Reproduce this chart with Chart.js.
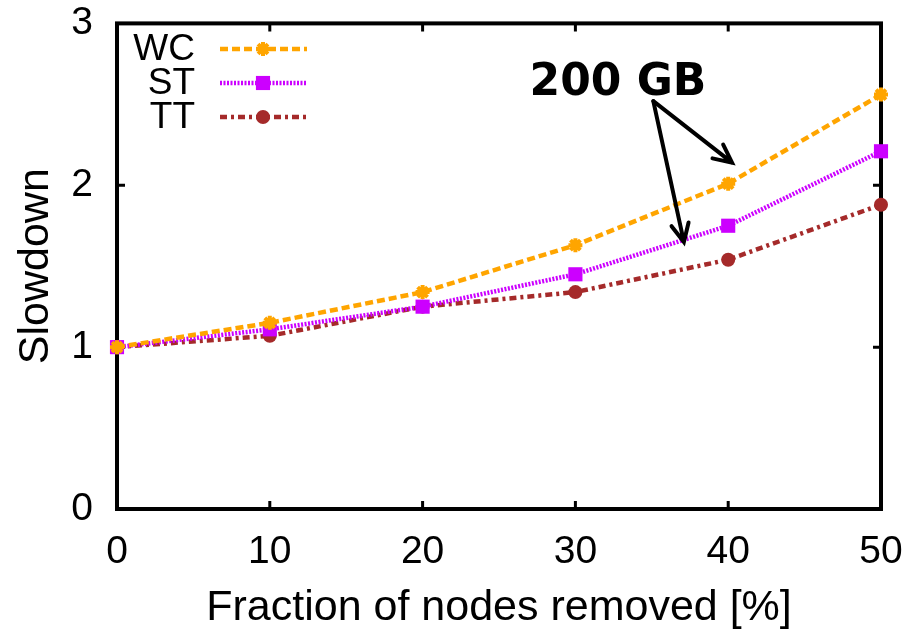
<!DOCTYPE html>
<html>
<head>
<meta charset="utf-8">
<script src="https://cdn.jsdelivr.net/npm/chart.js@4/dist/chart.umd.min.js"></script>
<style>
  html, body { margin: 0; padding: 0; background: #fff; }
  #wrap { width: 909px; height: 638px; }
</style>
</head>
<body>
<div id="wrap"><canvas id="slowdownChart"></canvas></div>
<script>
// values
const fractions = [0, 10, 20, 30, 40, 50];
const wcSlowdown = [1.0, 1.15, 1.34, 1.63, 2.01, 2.56];
const stSlowdown = [1.0, 1.11, 1.25, 1.45, 1.75, 2.21];
const ttSlowdown = [1.0, 1.07, 1.25, 1.34, 1.54, 1.88];
const seriesNames = ["WC", "ST", "TT"];

const FONT = "'Liberation Sans', Arial, Helvetica, sans-serif";

const toPoints = (ys) => fractions.map((x, i) => ({ x: x, y: ys[i] }));

// gnuplot style frame with inward ticks on all four sides
const framePlugin = {
  id: "frame",
  beforeDatasetsDraw(chart) {
    const { ctx, chartArea: a, scales } = chart;
    ctx.save();
    ctx.strokeStyle = "#000";
    ctx.lineWidth = 4;
    ctx.strokeRect(a.left, a.top, a.right - a.left, a.bottom - a.top);
    ctx.lineWidth = 3;
    const t = 8;
    scales.x.ticks.forEach((tk) => {
      const px = scales.x.getPixelForValue(tk.value);
      ctx.beginPath();
      ctx.moveTo(px, a.bottom); ctx.lineTo(px, a.bottom - t);
      ctx.moveTo(px, a.top); ctx.lineTo(px, a.top + t);
      ctx.stroke();
    });
    scales.y.ticks.forEach((tk) => {
      const py = scales.y.getPixelForValue(tk.value);
      ctx.beginPath();
      ctx.moveTo(a.left, py); ctx.lineTo(a.left + t, py);
      ctx.moveTo(a.right, py); ctx.lineTo(a.right - t, py);
      ctx.stroke();
    });
    ctx.restore();
  },
};

// legend: name on the left, line sample with marker on the right
const keyPlugin = {
  id: "key",
  afterDraw(chart) {
    const { ctx } = chart;
    ctx.save();
    chart.data.datasets.forEach((ds, i) => {
      const y = 49 + i * 34;
      ctx.fillStyle = "#000";
      ctx.font = "37px " + FONT;
      ctx.textAlign = "right";
      ctx.textBaseline = "middle";
      ctx.fillText(ds.label, 195, y + 1);
      ctx.strokeStyle = ds.borderColor;
      ctx.lineWidth = ds.borderWidth;
      ctx.setLineDash(ds.borderDash);
      ctx.beginPath();
      ctx.moveTo(220, y); ctx.lineTo(307, y);
      ctx.stroke();
      ctx.setLineDash([]);
      ctx.fillStyle = ds.pointBackgroundColor;
      ctx.strokeStyle = ds.pointBorderColor;
      ctx.lineWidth = ds.pointBorderWidth;
      Chart.helpers.drawPoint(ctx, {
        pointStyle: ds.pointStyle, radius: ds.pointRadius,
        borderWidth: ds.pointBorderWidth, rotation: 0,
      }, 263, y);
    });
    ctx.restore();
  },
};

// "200 GB" label with two arrows, placed in data coordinates
const notePlugin = {
  id: "note",
  afterDraw(chart) {
    const { ctx, scales } = chart;
    const px = (v) => scales.x.getPixelForValue(v);
    const py = (v) => scales.y.getPixelForValue(v);
    ctx.save();
    ctx.fillStyle = "#000";
    ctx.font = "bold 44px 'DejaVu Sans', sans-serif";
    ctx.textAlign = "left";
    ctx.textBaseline = "alphabetic";
    ctx.fillText("200 GB", px(27.0), py(2.555));

    const from = [35.1, 2.52];
    const targets = [[40.25, 2.14], [37.1, 1.65]];
    ctx.strokeStyle = "#000";
    ctx.lineWidth = 4;
    ctx.lineCap = "round";
    targets.forEach(([tx, ty]) => {
      const x0 = px(from[0]), y0 = py(from[1]);
      const x1 = px(tx), y1 = py(ty);
      const ang = Math.atan2(y1 - y0, x1 - x0);
      const h = 20;
      ctx.beginPath();
      ctx.moveTo(x0, y0); ctx.lineTo(x1, y1);
      ctx.moveTo(x1 - h * Math.cos(ang - 0.45), y1 - h * Math.sin(ang - 0.45));
      ctx.lineTo(x1, y1);
      ctx.lineTo(x1 - h * Math.cos(ang + 0.45), y1 - h * Math.sin(ang + 0.45));
      ctx.stroke();
    });
    ctx.restore();
  },
};

const ctx = document.getElementById("slowdownChart").getContext("2d");

new Chart(ctx, {
  type: "line",
  data: {
    datasets: [
      {
        label: seriesNames[0],
        data: toPoints(wcSlowdown),
        borderColor: "#ffa500",
        borderWidth: 4.5,
        borderDash: [8, 4],
        pointStyle: "star",
        pointRadius: 7,
        pointBorderWidth: 4,
        pointBackgroundColor: "#ffa500",
        pointBorderColor: "#ffa500",
      },
      {
        label: seriesNames[1],
        data: toPoints(stSlowdown),
        borderColor: "#cc00ff",
        borderWidth: 4.5,
        borderDash: [2, 1.5],
        pointStyle: "rect",
        pointRadius: 10,
        pointBorderWidth: 0,
        pointBackgroundColor: "#cc00ff",
        pointBorderColor: "#cc00ff",
      },
      {
        label: seriesNames[2],
        data: toPoints(ttSlowdown),
        borderColor: "#a52a2a",
        borderWidth: 4.5,
        borderDash: [7, 4, 3, 4],
        pointStyle: "circle",
        pointRadius: 7,
        pointBorderWidth: 0,
        pointBackgroundColor: "#a52a2a",
        pointBorderColor: "#a52a2a",
      },
    ],
  },
  options: {
    responsive: true,
    maintainAspectRatio: false,
    animation: false,
    clip: false,
    layout: { padding: { top: 23, right: 28, left: 0, bottom: 0 } },
    plugins: {
      legend: { display: false },
      tooltip: { enabled: false },
    },
    scales: {
      x: {
        type: "linear",
        min: 0,
        max: 50,
        // tick marks are drawn by the frame plugin; tickLength only offsets labels
        grid: { display: false, drawTicks: true, tickLength: 20 },
        border: { display: false },
        ticks: {
          stepSize: 10,
          padding: 0,
          color: "#000",
          font: { family: FONT, size: 39 },
        },
        title: {
          display: true,
          text: "Fraction of nodes removed [%]",
          color: "#000",
          font: { family: FONT, size: 43 },
          padding: { top: 0, bottom: 4 },
        },
        afterFit: (scale) => { scale.height = 129; },
      },
      y: {
        min: 0,
        max: 3,
        grid: { display: false, drawTicks: true, tickLength: 24 },
        border: { display: false },
        ticks: {
          stepSize: 1,
          padding: 0,
          color: "#000",
          font: { family: FONT, size: 39 },
        },
        title: {
          display: true,
          text: "Slowdown",
          color: "#000",
          font: { family: FONT, size: 43 },
          padding: { top: 10, bottom: 0 },
        },
        afterFit: (scale) => { scale.width = 117; },
      },
    },
  },
  plugins: [framePlugin, keyPlugin, notePlugin],
});
</script>
</body>
</html>
